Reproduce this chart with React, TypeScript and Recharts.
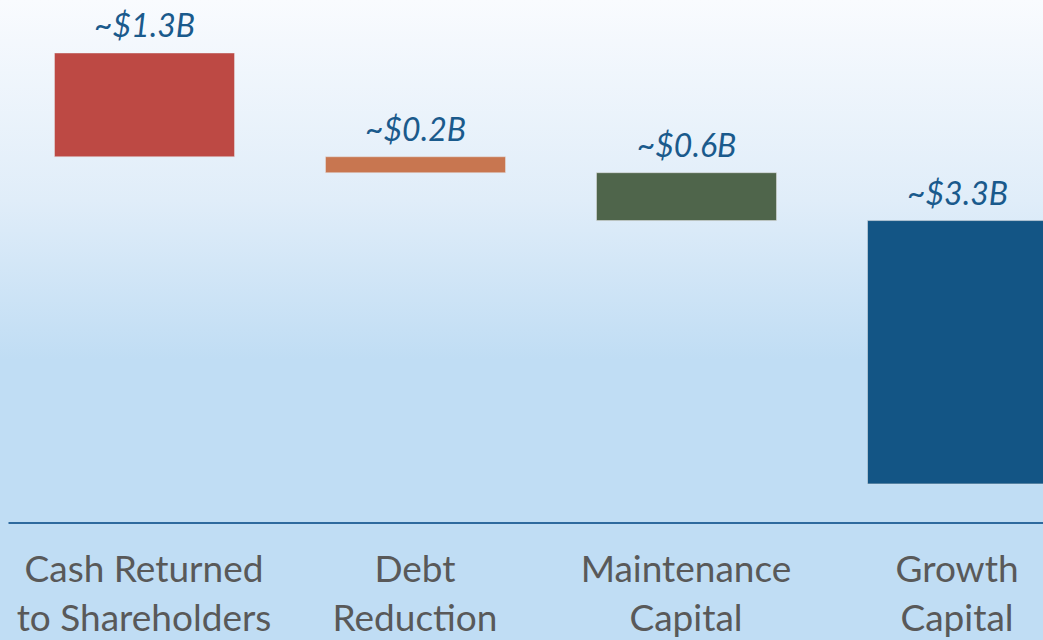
import React from 'react';
import { BarChart, Bar, XAxis, YAxis, Cell, LabelList } from 'recharts';

const categories = ['Cash Returned|to Shareholders', 'Debt|Reduction', 'Maintenance|Capital', 'Growth|Capital'];
const amounts = [1.3, 0.2, 0.6, 3.3];
const valueLabels = ['~$1.3B', '~$0.2B', '~$0.6B', '~$3.3B'];
const colors = ['#bd4944', '#c87650', '#4f654b', '#135585'];

const total = amounts.reduce((a, b) => a + b, 0);
const data = categories.map((name, i) => {
  const after = amounts.slice(i + 1).reduce((a, b) => a + b, 0);
  return { name, base: after, value: amounts[i], label: valueLabels[i] };
});

function CategoryTick(props: any) {
  const { x, y, payload } = props;
  const lines = String(payload.value).split('|');
  return (
    <g transform={`translate(${x},${y})`}>
      {lines.map((l, i) => (
        <text key={i} x={0} y={51 + i * 49} textAnchor="middle" fill="#595959"
          style={{ fontFamily: 'Lato, "Open Sans", sans-serif', fontSize: 37 }}>
          {l}
        </text>
      ))}
    </g>
  );
}

export default function App() {
  return (
    <div style={{
      position: 'absolute', left: 0, top: 0, width: 1043, height: 640, overflow: 'hidden',
      background: 'linear-gradient(to bottom, #f9fbfe 0px, #e0edf9 200px, #c0ddf4 360px, #c0ddf4 640px)',
    }}>
      <BarChart width={1100} height={640} data={data} barSize={180}
        margin={{ top: 53, right: 7.5, left: 8.5, bottom: 0 }}>
        <XAxis dataKey="name" axisLine={{ stroke: '#2e6a9e', strokeWidth: 2 }} tickLine={false}
          interval={0} tick={<CategoryTick />} height={117} />
        <YAxis hide domain={[-0.49, total]} allowDataOverflow />
        <Bar dataKey="base" stackId="w" fill="transparent" isAnimationActive={false} />
        <Bar dataKey="value" stackId="w" isAnimationActive={false} stroke="#e6e6e6" strokeOpacity={0.5} strokeWidth={1}>
          {data.map((d, i) => <Cell key={i} fill={colors[i]} />)}
          <LabelList dataKey="label" position="top" offset={16} fill="#1a5a8c"
            style={{ fontFamily: 'Lato, "Open Sans", sans-serif', fontSize: 32, fontStyle: 'italic' }} />
        </Bar>
      </BarChart>
    </div>
  );
}
